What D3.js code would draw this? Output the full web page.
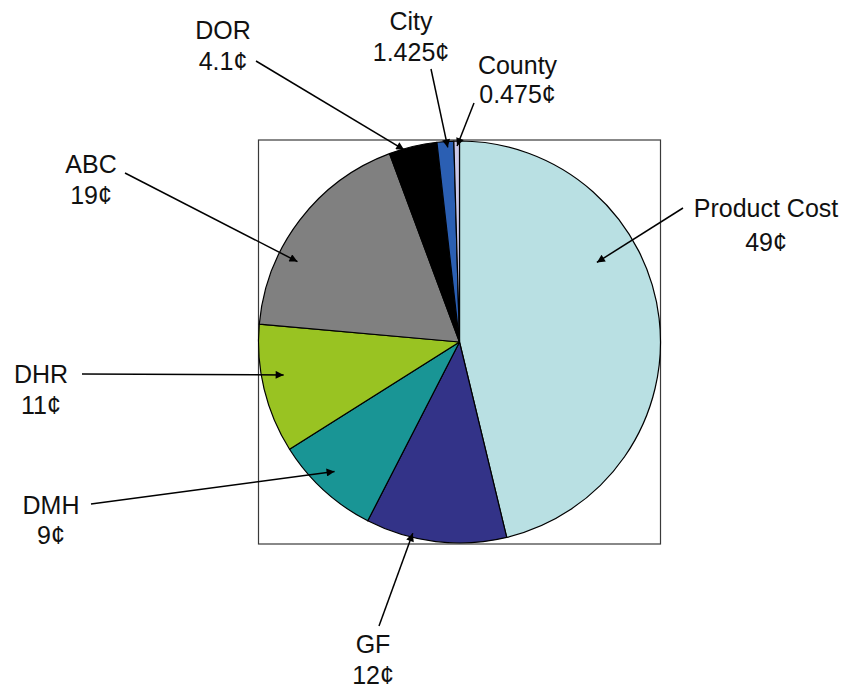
<!DOCTYPE html>
<html>
<head>
<meta charset="utf-8">
<script src="https://cdn.jsdelivr.net/npm/d3@7"></script>
<style>
  html, body { margin: 0; padding: 0; background: #fff; }
  svg { display: block; font-family: 'Liberation Sans', Arial, sans-serif; }
</style>
</head>
<body>
<svg id="chart" width="845" height="691"></svg>
<script>
// slice data, clockwise from 12 o'clock
const categories = ['Product Cost', 'GF', 'DMH', 'DHR', 'ABC', 'DOR', 'City', 'County'];
const values = [49, 12, 9, 11, 19, 4.1, 1.425, 0.475];
const valueLabels = ['49¢', '12¢', '9¢', '11¢', '19¢', '4.1¢', '1.425¢', '0.475¢'];
const sliceColors = ['#b9e0e3', '#333388', '#199595', '#99c322', '#808080', '#000000', '#2b5fb3', '#cbc8e8'];

// label placement: text centre + baseline, line gap, arrow tail, and where the tip sits inside the slice
// (t = fraction along the slice angle, k = fraction of the radius)
const labelLayout = [
  { x: 766, y: 217, gap: 34, tail: [683, 208], t: 0.36, k: 0.79 },
  { x: 373, y: 653, gap: 31, tail: [379, 626], t: 0.67, k: 0.98 },
  { x: 51, y: 514, gap: 30, tail: [91, 504], t: 0.55, k: 0.895 },
  { x: 41, y: 383, gap: 31, tail: [82, 374], t: 0.58, k: 0.89 },
  { x: 91, y: 173, gap: 31, tail: [125, 173], t: 0.33, k: 0.9 },
  { x: 223, y: 39, gap: 30.5, tail: [256, 61], t: 0.31, k: 0.995 },
  { x: 411, y: 29.5, gap: 31.5, tail: [431, 69], t: 0.62, k: 0.97 },
  { x: 517.5, y: 74, gap: 29, tail: [474, 103], t: 0.56, k: 0.975 }
];

const svg = d3.select('#chart');
const cx = 459.5;
const cy = 342;
const radius = 201;

const pie = d3.pie().sort(null).value((d) => d.value);
const arcs = pie(categories.map((name, i) => ({ name, value: values[i], i })));
const arc = d3.arc().innerRadius(0).outerRadius(radius);

// plot-area frame
svg
  .append('rect')
  .attr('x', cx - radius)
  .attr('y', cy - radius - 1)
  .attr('width', radius * 2)
  .attr('height', radius * 2 + 2)
  .attr('fill', 'none')
  .attr('stroke', '#3a3a3a')
  .attr('stroke-width', 1.2);

const g = svg.append('g').attr('transform', `translate(${cx},${cy})`);

g.selectAll('path')
  .data(arcs)
  .join('path')
  .attr('d', arc)
  .attr('fill', (d) => sliceColors[d.data.i])
  .attr('stroke', '#000')
  .attr('stroke-width', 1.2)
  .attr('stroke-linejoin', 'round');

svg
  .append('defs')
  .append('marker')
  .attr('id', 'head')
  .attr('viewBox', '0 0 10 10')
  .attr('refX', 10)
  .attr('refY', 5)
  .attr('markerWidth', 9)
  .attr('markerHeight', 8)
  .attr('markerUnits', 'userSpaceOnUse')
  .attr('orient', 'auto')
  .append('path')
  .attr('d', 'M0,0 L10,5 L0,10 Z')
  .attr('fill', '#000');

function tipPoint(d, layout) {
  const angle = d.startAngle + (d.endAngle - d.startAngle) * layout.t;
  const r = radius * layout.k;
  return [cx + r * Math.sin(angle), cy - r * Math.cos(angle)];
}

svg
  .append('g')
  .selectAll('line')
  .data(arcs)
  .join('line')
  .attr('x1', (d) => labelLayout[d.data.i].tail[0])
  .attr('y1', (d) => labelLayout[d.data.i].tail[1])
  .attr('x2', (d) => tipPoint(d, labelLayout[d.data.i])[0])
  .attr('y2', (d) => tipPoint(d, labelLayout[d.data.i])[1])
  .attr('stroke', '#000')
  .attr('stroke-width', 1.5)
  .attr('marker-end', 'url(#head)');

const labels = svg
  .append('g')
  .selectAll('text')
  .data(arcs)
  .join('text')
  .attr('text-anchor', 'middle')
  .attr('font-size', 25)
  .attr('fill', '#111');

labels
  .append('tspan')
  .attr('x', (d) => labelLayout[d.data.i].x)
  .attr('y', (d) => labelLayout[d.data.i].y)
  .text((d) => d.data.name);
labels
  .append('tspan')
  .attr('x', (d) => labelLayout[d.data.i].x)
  .attr('y', (d) => labelLayout[d.data.i].y + labelLayout[d.data.i].gap)
  .text((d) => valueLabels[d.data.i]);
</script>
</body>
</html>
